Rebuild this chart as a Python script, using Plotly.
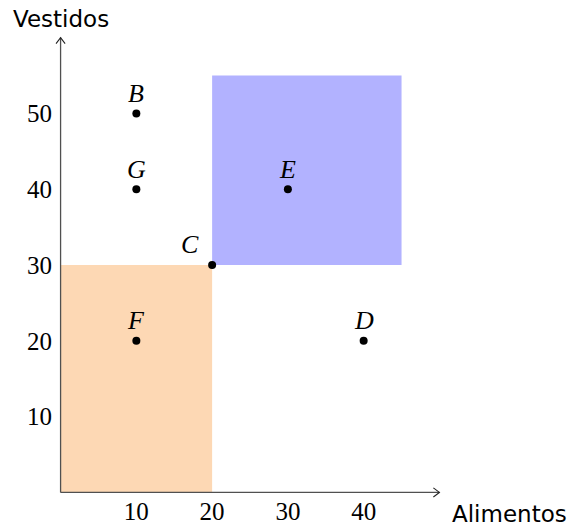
import plotly.graph_objects as go

# Bundles of goods (Alimentos, Vestidos)
point_names = ["B", "G", "C", "F", "E", "D"]
alimentos = [10, 10, 20, 10, 30, 40]
vestidos = [50, 40, 30, 20, 40, 20]
# label offsets in px relative to each point
label_dx = [0, 0, -22, 0, 0, 0]
label_dy = [20, 20, 21, 20, 20, 20]

x_ticks = [10, 20, 30, 40]
y_ticks = [10, 20, 30, 40, 50]

# Regions: worse-than-C (orange) and better-than-C (blue)
worse_region = dict(x0=0, x1=20, y0=0, y1=30)
better_region = dict(x0=20, x1=45, y0=30, y1=55)

x_end, y_end = 50, 60

serif = "Liberation Serif"
sans = "DejaVu Sans"

fig = go.Figure()

# axes with open arrow tips
axis_color = "#505050"
fig.add_trace(go.Scatter(x=[0, x_end], y=[0, 0], mode="lines",
                         line=dict(color=axis_color, width=1.3), hoverinfo="skip", showlegend=False))
fig.add_trace(go.Scatter(x=[0, 0], y=[0, y_end], mode="lines",
                         line=dict(color=axis_color, width=1.3), hoverinfo="skip", showlegend=False))
fig.add_trace(go.Scatter(x=[x_end - 0.8, x_end, x_end - 0.8], y=[0.6, 0, -0.6], mode="lines",
                         line=dict(color="#222", width=1.1), hoverinfo="skip", showlegend=False))
fig.add_trace(go.Scatter(x=[-0.6, 0, 0.6], y=[y_end - 0.8, y_end, y_end - 0.8], mode="lines",
                         line=dict(color="#222", width=1.1), hoverinfo="skip", showlegend=False))

fig.add_trace(go.Scatter(
    x=alimentos, y=vestidos, mode="markers",
    marker=dict(color="black", size=8),
    cliponaxis=False, hoverinfo="skip", showlegend=False,
))

for name, xv, yv, dx, dy in zip(point_names, alimentos, vestidos, label_dx, label_dy):
    fig.add_annotation(text=name, x=xv, y=yv, xref="x", yref="y",
                       xshift=dx, yshift=dy, xanchor="center", yanchor="middle",
                       showarrow=False,
                       font=dict(family=serif, size=26, color="black", style="italic"))

fig.add_shape(type="rect", xref="x", yref="y", layer="below",
              fillcolor="#FDD8B4", line=dict(width=0), **worse_region)
fig.add_shape(type="rect", xref="x", yref="y", layer="below",
              fillcolor="#B2B2FF", line=dict(width=0), **better_region)

fig.update_xaxes(range=[-1, 51], showgrid=False, zeroline=False, showline=False,
                 tickvals=x_ticks, ticks="", automargin=False, ticklabelstandoff=-6,
                 tickfont=dict(family=serif, size=25, color="black"))
fig.update_yaxes(range=[-1, 61], showgrid=False, zeroline=False, showline=False,
                 tickvals=y_ticks, ticks="", automargin=False,
                 tickfont=dict(family=serif, size=25, color="black"))

fig.add_annotation(text="Vestidos", xref="x", yref="paper", x=0, y=1,
                   xanchor="center", yanchor="bottom", yshift=-4,
                   showarrow=False, font=dict(family=sans, size=23, color="black"))
fig.add_annotation(text="Alimentos", xref="paper", yref="paper", x=1.1575, y=0,
                   xanchor="center", yanchor="middle", yshift=-14,
                   showarrow=False, font=dict(family=sans, size=23, color="black"))

fig.update_layout(
    width=574, height=526,
    margin=dict(l=53, r=127, t=30, b=26),
    paper_bgcolor="white", plot_bgcolor="white",
)

fig.write_html("out.html")
